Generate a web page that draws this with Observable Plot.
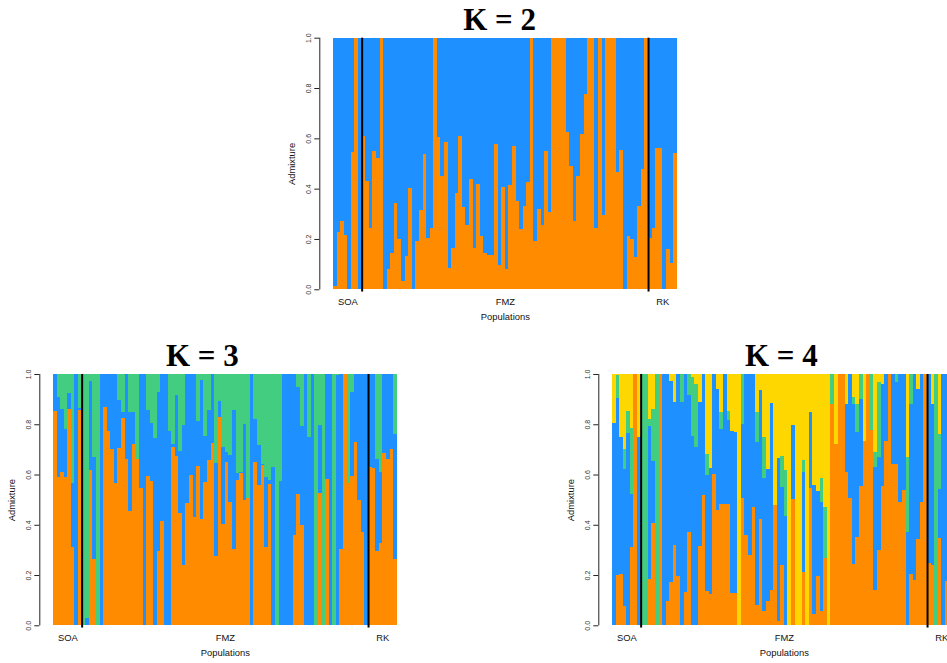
<!DOCTYPE html>
<html>
<head>
<meta charset="utf-8">
<script src="https://cdn.jsdelivr.net/npm/d3@7"></script>
<script src="https://cdn.jsdelivr.net/npm/@observablehq/plot@0.6"></script>
<style>
  html, body { margin: 0; padding: 0; background: #fff; overflow: hidden; width: 947px; height: 663px; }
  #page { position: relative; width: 947px; height: 663px; overflow: hidden; }
  .panel { position: absolute; }
  .panel svg { max-width: none !important; }
</style>
</head>
<body>
<div id="page"></div>
<script>
// Sampling groups, in plotting order, and the number of individuals in each
const populations = ["SOA", "FMZ", "RK"];
const popSizes = [8, 80, 8];

const yTicks = [0, 0.2, 0.4, 0.6, 0.8, 1.0];

// Cluster colours, bottom of the stack first
const clusterColors = ["#FF8C00", "#1E90FF", "#43CD80", "#FFD700"];

// K = 2 : membership in the orange cluster (blue is the remainder)
const k2Orange = [
  0.013, 0.229, 0.272, 0.216, 0, 0.547, 1, 0,
  0.609, 0.430, 0.245, 0.550, 0.523, 1, 0, 0.082, 0.144, 0.343,
  0.200, 0.034, 0.134, 0.404, 0, 0.193, 0.317, 0.539, 0.204, 0.245,
  1, 0.605, 0.452, 0.587, 0.085, 0.166, 0.383, 0.609, 0.327, 0.256,
  0.438, 0.166, 0.420, 0.213, 0.144, 0.136, 0.136, 0.577, 0.097, 0.407,
  0.081, 0.415, 0.570, 0.351, 0.240, 0.332, 0.426, 1, 0.192, 0.319,
  0.256, 0.550, 0.309, 1, 1, 1, 1, 0.626, 0.491, 0.272,
  0.449, 0.619, 0.778, 1, 1, 0.245, 1, 0.295, 1, 1,
  1, 0.468, 0.554, 0, 0.212, 0.199, 0.129, 0.332, 0.478, 1,
  0.205, 0.245, 0.563, 0.563, 0, 0.160, 0.105, 0.542
];

// K = 3 : orange and blue memberships (green is the remainder)
const k3Orange = [
  0.854, 0.589, 0.610, 0.589, 0.861, 0.312, 0, 0.858,
  0, 0, 0.619, 0.264, 0, 0, 0.867, 0.773, 0.702, 0.566,
  0.706, 0.825, 0.662, 0.454, 0.723, 0.662, 0.548, 0, 0.595, 0.574,
  0, 0.296, 0.415, 0, 0, 0.709, 0.675, 0.447, 0.240, 0.487,
  0.598, 0.431, 0.635, 0.423, 0.572, 0.659, 0.724, 0.277, 0.829, 0.404,
  0.651, 0.492, 0.304, 0.580, 0.606, 0.500, 0.508, 0, 0.651, 0.558,
  0.638, 0.312, 0.564, 0, 0, 0, 0, 0, 0, 0.359,
  0.524, 0.399, 0, 0, 0, 0, 0.527, 0, 0.582, 0,
  0, 0, 0.304, 1, 0.566, 0.595, 0.729, 0.499, 0.373, 0,
  0.630, 0.626, 0.296, 0.328, 0.686, 0.662, 0.702, 0.264
];
const k3Blue = [
  0.146, 0.319, 0.251, 0.192, 0.063, 0.254, 1, 0.007,
  0, 0.030, 0.352, 0.406, 0, 1, 0.133, 0.227, 0.298, 0.434,
  0.192, 0.022, 0.338, 0.396, 0.127, 0, 0.452, 1, 0.260, 0.231,
  0.744, 0.634, 0.585, 1, 0.775, 0.011, 0.243, 0.247, 0.557, 0.513,
  0.402, 0.569, 0.178, 0.553, 0.183, 0.199, 0.276, 0.369, 0.064, 0.306,
  0.039, 0.186, 0.554, 0.025, 0.004, 0.302, 0, 1, 0.170, 0.160,
  0.002, 0.278, 0.016, 0.630, 0, 0.574, 1, 1, 1, 0.641,
  0.424, 0.395, 1, 0.749, 1, 0, 0.271, 0, 0.418, 1,
  0, 0.995, 0.696, 0, 0, 0.335, 0.271, 0.501, 0.627, 1,
  0.370, 0.374, 0.367, 0.283, 0.314, 0.338, 0.298, 0.499
];

// K = 4 : orange, blue and green memberships (yellow is the remainder)
const k4Orange = [
  0, 0.202, 0.204, 0.078, 0, 0.312, 1, 0,
  0, 0, 0.184, 0.407, 0, 1, 0, 0.097, 0.174, 0.320,
  0.198, 0, 0.133, 0.371, 0, 0, 0.315, 0.520, 0.137, 0.125,
  0.603, 0.460, 0.483, 0.483, 0.483, 0.129, 0.130, 0, 0.508, 0.359,
  0.280, 0.471, 0.081, 0.423, 0.057, 0.097, 0.142, 0.479, 0.017, 0.240,
  0, 0, 0.503, 0, 0, 0.214, 0, 0.548, 0.046, 0.196,
  0.057, 0.269, 0, 0.882, 0.722, 1, 1, 0.611, 0.508, 0.245,
  0.352, 0.556, 0.733, 1, 0.779, 0.140, 0.300, 0.555, 0.735, 1,
  0.640, 0.640, 0.490, 0.540, 0, 0.205, 0.180, 0.345, 0.490, 1,
  0.248, 0.240, 0, 0.346, 0, 0.176, 0.200, 0.200
];
const k4Blue = [
  0.805, 0.703, 0.545, 0.544, 0.765, 0.212, 0, 0.749,
  0, 0, 0.610, 0.248, 0, 0, 1, 0.903, 0.797, 0.567,
  0.802, 0.887, 0.867, 0.547, 0.755, 0.710, 0.575, 0.480, 0.463, 0.502,
  0.397, 0.480, 0.297, 0.517, 0.335, 0.643, 0.640, 0, 0.294, 0.641,
  0.720, 0.529, 0.650, 0.515, 0.531, 0.525, 0.743, 0, 0.649, 0.310,
  0.436, 0, 0.294, 0, 0, 0.397, 0, 0.302, 0.512, 0.340,
  0.435, 0, 0, 0, 0, 0, 0, 0.269, 0.492, 0.635,
  0.418, 0.344, 0, 0, 0, 0.490, 0.370, 0.405, 0.265, 0,
  0.360, 0.330, 0.510, 0.460, 0.370, 0.675, 0.820, 0.595, 0.510, 0,
  0.752, 0.640, 0, 0.196, 1, 0.824, 0.800, 0.800
];
const k4Green = [
  0, 0.092, 0, 0.080, 0.086, 0.261, 0, 0,
  1, 1, 0.027, 0.206, 1, 0, 0, 0, 0, 0,
  0, 0.113, 0, 0.082, 0.235, 0.250, 0, 0, 0.080, 0,
  0, 0, 0.070, 0, 0.036, 0, 0, 0, 0.198, 0,
  0, 0, 0.119, 0, 0.161, 0, 0, 0, 0, 0.124,
  0.183, 0, 0, 0, 0, 0.047, 0, 0, 0, 0,
  0.096, 0.202, 0, 0.118, 0, 0, 0, 0, 0, 0.030,
  0.110, 0.100, 0, 0, 0.221, 0.060, 0.300, 0, 0, 0,
  0, 0.030, 0, 0, 0.300, 0.120, 0, 0, 0, 0,
  0, 0, 1, 0.221, 0, 0, 0, 0
];

// Stack one K's memberships into rectangles, one column per individual
function stackRows(series) {
  const n = series[0].length;
  const rows = [];
  for (let i = 0; i < n; ++i) {
    let cum = 0;
    series.forEach((s, j) => {
      const v = s[i];
      rows.push({i, cluster: j, y1: cum, y2: cum + v});
      cum += v;
    });
    rows.push({i, cluster: series.length, y1: cum, y2: 1});
  }
  return rows.filter(d => d.y2 > d.y1);
}

// Population boundaries and label centres from the group sizes
const popEdges = d3.cumsum(popSizes);
const popLabels = populations.map((p, k) => ({name: p, at: popEdges[k] - popSizes[k] / 2}));
const nInd = d3.sum(popSizes);

const font = "'Liberation Sans', Helvetica, Arial, sans-serif";
const plotW = 343.7;
const mL = 50;

function panel({k, series, left, top, marginTop, plotH, titleDx}) {
  const marginBottom = 40;
  const width = mL + plotW + 12;
  const height = marginTop + plotH + marginBottom;
  const rows = stackRows(series);
  const chart = Plot.plot({
    width, height,
    marginLeft: mL, marginRight: width - mL - plotW,
    marginTop, marginBottom,
    style: {overflow: "visible", background: "transparent", fontFamily: font, maxWidth: "none"},
    x: {domain: [0, nInd], axis: null},
    y: {domain: [0, 1], axis: null},
    color: {domain: d3.range(k), range: clusterColors.slice(0, k)},
    marks: [
      Plot.rect(rows, {x1: "i", x2: d => d.i + 1, y1: "y1", y2: "y2", fill: "cluster", shapeRendering: "crispEdges"}),
      // R-style y axis, offset to the left of the bars
      Plot.ruleX([0], {y1: 0, y2: 1, dx: -13.7, stroke: "#222", strokeWidth: 1}),
      Plot.axisY(yTicks, {anchor: "left", tickSize: 5, dx: -13.7, tickFormat: () => "", stroke: "#222", strokeWidth: 1}),
      Plot.text(yTicks, {x: 0, y: d => d, text: d => d3.format(".1f")(d), rotate: -90, dx: -24.5,
        fontSize: 7, lineAnchor: "middle", textAnchor: "middle", fill: "#333"}),
      Plot.text(["Admixture"], {frameAnchor: "left", rotate: -90, dx: -41.7, fontSize: 9.4,
        lineAnchor: "middle", textAnchor: "middle", fill: "#111"}),
      // population names and axis title
      Plot.text(popLabels, {x: "at", y: 0, text: "name", dy: 12.4, fontSize: 9.4, lineAnchor: "middle", fill: "#111"}),
      Plot.text(["Populations"], {frameAnchor: "bottom", dy: 27.7, fontSize: 9.4, lineAnchor: "middle", fill: "#111"}),
      // separators between populations
      Plot.ruleX(popEdges.slice(0, -1), {y1: -0.009, y2: 1, stroke: "black", strokeWidth: 2}),
      // panel title
      Plot.text([`K = ${k}`], {frameAnchor: "top", dx: titleDx, dy: -8.4, lineAnchor: "bottom",
        fontSize: 31, fontWeight: "bold", fontFamily: "'Liberation Serif', 'Times New Roman', serif", fill: "#000"})
    ]
  });
  const div = document.createElement("div");
  div.className = "panel";
  div.style.left = `${left - mL}px`;
  div.style.top = `${top - marginTop}px`;
  div.style.width = `${width}px`;
  div.style.height = `${height}px`;
  div.appendChild(chart);
  document.getElementById("page").appendChild(div);
}

panel({k: 2, series: [k2Orange], left: 332.9, top: 37.7, marginTop: 37.7, plotH: 251.6, titleDx: -5.7});
panel({k: 3, series: [k3Orange, k3Blue], left: 53.0, top: 374, marginTop: 44, plotH: 251.3, titleDx: -23});
panel({k: 4, series: [k4Orange, k4Blue, k4Green], left: 612.0, top: 374, marginTop: 44, plotH: 251.3, titleDx: -3});
</script>
</body>
</html>
